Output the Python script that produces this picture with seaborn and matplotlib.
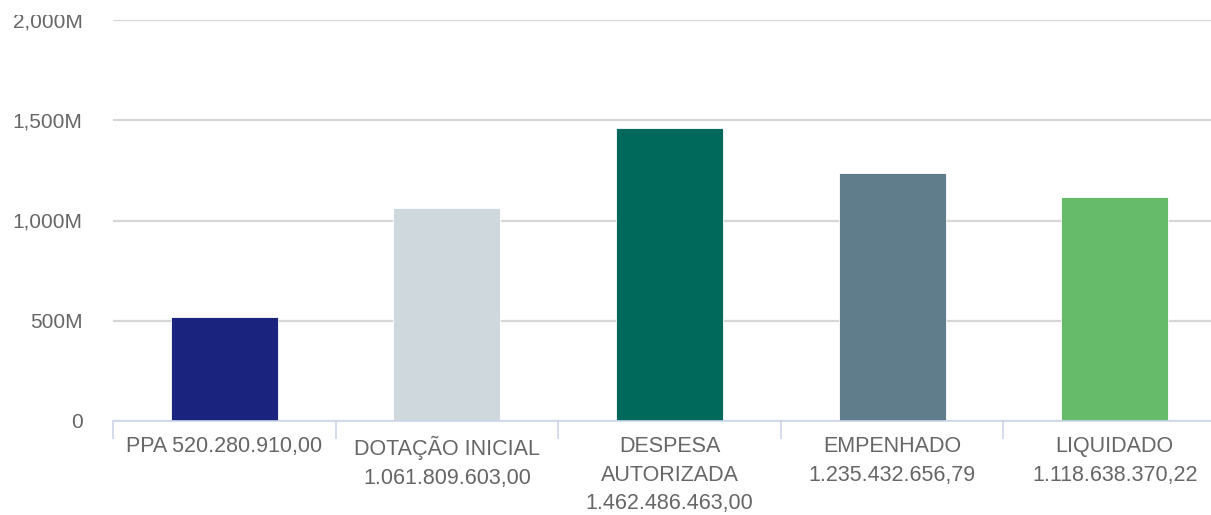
import matplotlib
matplotlib.use("Agg")
import matplotlib.pyplot as plt
from matplotlib.ticker import FuncFormatter, FixedLocator
from matplotlib.transforms import Bbox, TransformedBbox
import seaborn as sns
import pandas as pd

# Budget execution stages and their amounts (R$)
categories = ["PPA", "DOTAÇÃO INICIAL", "DESPESA AUTORIZADA", "EMPENHADO", "LIQUIDADO"]
tick_labels = [
    "PPA 520.280.910,00",
    "DOTAÇÃO INICIAL\n1.061.809.603,00",
    "DESPESA\nAUTORIZADA\n1.462.486.463,00",
    "EMPENHADO\n1.235.432.656,79",
    "LIQUIDADO\n1.118.638.370,22",
]
values = [520280910.00, 1061809603.00, 1462486463.00, 1235432656.79, 1118638370.22]
colors = ["#1a237e", "#cfd8dc", "#00695c", "#607d8b", "#66bb6a"]
y_ticks = [0, 500e6, 1000e6, 1500e6, 2000e6]

df = pd.DataFrame({"etapa": categories, "valor": values})

sns.set_theme(style="white")
plt.rcParams["font.family"] = ["Liberation Sans", "DejaVu Sans"]

W, H = 1211, 515
fig = plt.figure(figsize=(W / 100, H / 100), dpi=100)
ax = fig.add_axes([113 / W, 94 / H, 1113 / W, 401 / H])

sns.barplot(data=df, x="etapa", y="valor", hue="etapa", palette=colors,
            order=categories, hue_order=categories, dodge=False, saturation=1,
            width=0.48, legend=False, ax=ax, edgecolor="white", linewidth=0.6)

ax.set_xlim(-0.5, len(categories) - 0.5)
ax.set_ylim(0, 2000e6)
ax.yaxis.set_major_locator(FixedLocator(y_ticks))
ax.yaxis.set_major_formatter(FuncFormatter(
    lambda v, _: "0" if v == 0 else f"{v / 1e6:,.0f}M"))
ax.grid(axis="y", color="#d6d6d6", linewidth=1.6)
ax.set_axisbelow(True)

ax.set_xticks(range(len(categories)))
ax.set_xticklabels(tick_labels, linespacing=1.46)
ax.xaxis.set_minor_locator(FixedLocator([i - 0.5 for i in range(len(categories) + 1)]))
ax.tick_params(axis="x", which="major", bottom=True, length=0, pad=11,
               labelsize=15.5, colors="#666666")
ax.tick_params(axis="x", which="minor", bottom=True, length=13, width=1.2,
               color="#ccd6eb", direction="out")
ax.tick_params(axis="y", length=0, pad=22, labelsize=15, colors="#666666")
ax.set_xlabel("")
ax.set_ylabel("")

for side in ["left", "right", "top"]:
    ax.spines[side].set_visible(False)
ax.spines["bottom"].set_color("#ccd6eb")
ax.spines["bottom"].set_linewidth(1.2)

# the top tick label sits partly outside the frame of the figure
clip = TransformedBbox(Bbox([[0, 0], [1, (H - 15) / H]]), fig.transFigure)
for lbl in ax.get_yticklabels():
    lbl.set_clip_box(clip)
    lbl.set_clip_on(True)

fig.savefig("out.png", dpi=100, facecolor="white")
